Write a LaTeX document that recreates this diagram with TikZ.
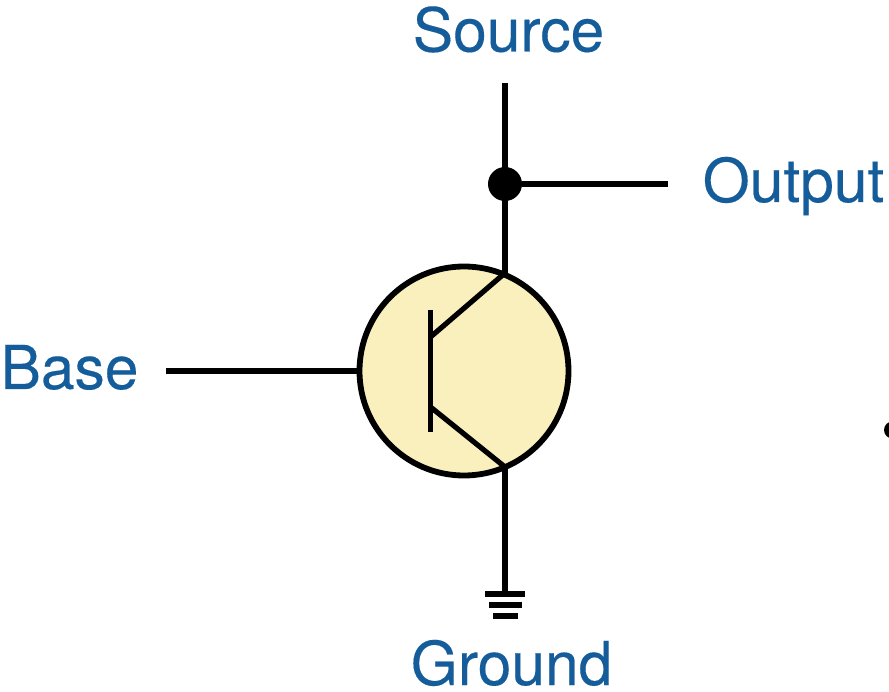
\documentclass[tikz,border=0pt]{standalone}
\usepackage{fontspec}
\setmainfont{TeX Gyre Heros}
\newfontfamily\labfont[FakeBold=0.25]{TeX Gyre Heros}
\definecolor{lbl}{HTML}{155C9A}
\definecolor{bodyfill}{HTML}{FAF0BE}
\tikzset{x=1pt,y=-1pt,
 wire/.style={line width=5.4pt,black},
 thinw/.style={line width=5.2pt,black},
 lab/.style={text=lbl,font=\labfont\fontsize{60.5}{61}\selectfont,inner sep=0pt,anchor=base},
 gnd/.style={line width=5.4pt,black}}
\begin{document}
\begin{tikzpicture}
\useasboundingbox (0,0) rectangle (889,692);
\clip (0,0) rectangle (889,692);
\node[circle,draw=black,fill=bodyfill,line width=5.8pt,minimum size=209pt,inner sep=0pt] (q) at (464,371) {};
\coordinate (c) at (505,273);
\coordinate (e) at (505,467);
\coordinate (src) at (505,83);
\coordinate (gnd) at (505,594);
\coordinate (outw) at (668,184);
\coordinate (basew) at (166,371);
\coordinate (bt) at (430.5,310);
\coordinate (bb) at (430.5,432);
\coordinate (bc) at (430.5,337);
\coordinate (be) at (430.5,407);
\node[circle,fill=black,minimum size=34pt,inner sep=0pt] (j) at (505,184) {};
\draw[wire] (src) -- (c);
\draw[wire] (j) -- (outw);
\draw[wire] (basew) -- (q.west);
\draw[wire] (e) -- (gnd);
\draw[thinw] (bt) -- (bb);
\draw[thinw] (bc) -- (c);
\draw[thinw] (be) -- (e);
\draw[gnd] (485,594) -- (525,594);
\draw[gnd] (489,605) -- (522,605);
\draw[gnd] (493,616) -- (518,616);
\node[lab] (source) at (508.5,51.5) {Source};
\node[lab] (output) at (793.5,202) {Output};
\node[lab] (base) at (69.5,389) {Base};
\node[lab] (ground) at (511.5,685) {Ground};
\node[circle,fill=black,minimum size=17pt,inner sep=0pt] (dot) at (892.5,430) {};
\end{tikzpicture}
\end{document}
